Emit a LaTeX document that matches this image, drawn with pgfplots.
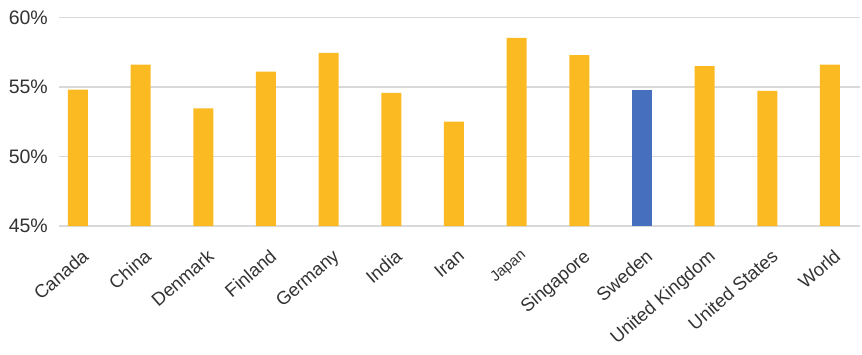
\documentclass[border=0pt]{standalone}
\usepackage{pgfplots}
\pgfplotsset{compat=1.18}
\usepackage{fontspec}
\setmainfont{Liberation Sans}
\definecolor{gold}{HTML}{FBBA22}
\definecolor{blue1}{HTML}{4670BD}
\definecolor{gridgray}{HTML}{D9D9D9}
\definecolor{txt}{HTML}{333333}
\begin{document}
\begin{tikzpicture}
\path[use as bounding box] (0,0) rectangle (862bp,355bp);
\begin{axis}[
  at={(59bp,129bp)}, anchor=south west,
  scale only axis, width=801bp, height=208.7bp,
  ymin=45, ymax=60, xmin=-0.303, xmax=12.48,
  ytick={45,50,55,60},
  yticklabel={\pgfmathprintnumber{\tick}\%},
  /pgf/number format/assume math mode=true,
  xtick={0,...,12},
  xticklabels={Canada,China,Denmark,Finland,Germany,India,Iran,{\fontsize{15bp}{15bp}\selectfont Japan},Singapore,Sweden,United Kingdom,United States,World},
  axis line style={draw=none},
  major tick length=0pt,
  ymajorgrids, grid style={color=gridgray, line width=1.5bp},
  yticklabel style={font=\fontsize{19.5bp}{19.5bp}\selectfont, text=txt, anchor=east, inner sep=0pt, xshift=-11bp},
  xticklabel style={font=\fontsize{18.5bp}{18.5bp}\selectfont, text=txt, inner sep=0pt, xshift=3bp, yshift=-22bp, rotate=41, anchor=north east},
  clip=false,
]
\addplot[ybar, bar width=20bp, bar shift=0pt, fill=gold, draw=none] coordinates {
  (0,54.8) (1,56.6) (2,53.45) (3,56.1) (4,57.45) (5,54.57) (6,52.5) (7,58.52) (8,57.28) (10,56.49) (11,54.71) (12,56.6)
};
\addplot[ybar, bar width=20bp, bar shift=0pt, fill=blue1, draw=none] coordinates {
  (9,54.8)
};
\end{axis}
\end{tikzpicture}
\end{document}
